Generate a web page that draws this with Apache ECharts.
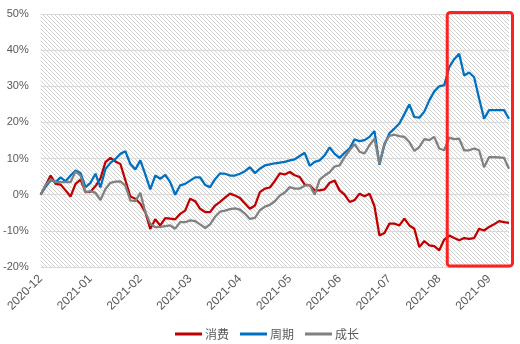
<!DOCTYPE html>
<html>
<head>
<meta charset="utf-8">
<script src="https://cdn.jsdelivr.net/npm/echarts@6/dist/echarts.min.js"></script>
<style>
html,body{margin:0;padding:0;background:#fff;}
#c{width:520px;height:344px;}
</style>
</head>
<body>
<div id="c"></div>
<script>
const tickLabels = ['2020-12','2021-01','2021-02','2021-03','2021-04','2021-05','2021-06','2021-07','2021-08','2021-09'];
const seriesNames = ['消费','周期','成长'];
const consumption = [0,2.6,5.3,3.0,2.8,1.2,-0.5,3.0,4.2,0.7,0.8,2.4,4.5,9.0,10.2,9.2,8.5,4.0,-0.5,-1.1,
  -2.5,-4.8,-9.5,-6.8,-8.5,-6.5,-6.6,-6.8,-5.3,-4.4,-1.1,-1.8,-3.9,-4.8,-4.8,-3.0,-2.0,-0.8,0.3,-0.2,
  -0.9,-2.4,-3.9,-3.0,0.7,1.7,2.0,3.8,5.9,5.6,6.3,5.4,4.9,2.8,2.6,1.2,1.2,1.5,3.3,3.9,
  1.2,0.0,-2.0,-1.5,0.3,-0.4,0.3,-3.2,-11.3,-10.6,-8.0,-8.0,-8.5,-6.6,-8.5,-9.4,-14.5,-12.8,-14.0,-14.2,
  -15.4,-12.4,-11.3,-12.0,-12.6,-12.0,-12.2,-12.0,-9.4,-9.9,-8.9,-8.2,-7.3,-7.6,-7.8];
const cyclical = [0,2.2,4.0,3.5,4.8,3.7,5.3,6.7,6.0,2.1,3.3,5.8,2.0,7.1,8.8,9.9,11.3,12.0,8.5,7.0,
  9.5,5.6,1.5,5.3,4.4,5.5,3.5,0.0,2.6,3.0,3.9,4.8,4.8,2.7,2.1,4.3,5.9,5.8,5.3,5.3,
  5.8,6.5,7.6,6.0,7.2,8.1,8.4,8.7,8.9,9.1,9.5,9.8,10.7,11.6,8.0,9.1,9.5,10.9,13.1,11.3,
  10.2,11.6,12.8,15.3,14.8,15.1,16.0,17.6,8.3,13.8,17.0,18.3,19.7,22.3,25.0,21.5,21.3,23.0,26.1,28.6,
  30.0,30.3,35.3,37.5,39.0,33.0,33.8,32.5,26.6,21.0,23.4,23.4,23.4,23.4,21.0];
const growth = [0,2.7,4.2,3.5,3.5,3.5,3.5,6.4,5.3,0.7,1.0,0.5,-1.5,1.6,3.3,3.6,3.7,2.5,-1.6,-1.8,
  0.5,-4.8,-8.0,-9.0,-8.9,-8.7,-8.5,-9.4,-7.6,-7.6,-7.1,-7.3,-8.2,-9.2,-8.2,-6.1,-4.7,-4.4,-4.0,-3.8,
  -4.1,-5.2,-6.7,-6.4,-4.3,-3.3,-2.8,-1.8,-0.2,0.6,2.1,1.7,1.7,2.5,2.7,0.0,4.2,5.3,6.2,7.8,
  8.1,10.4,12.3,14.0,11.9,11.4,13.7,15.5,8.6,14.2,16.3,16.6,16.2,16.0,14.6,12.1,13.2,15.4,15.1,16.0,
  12.8,12.3,15.8,15.4,15.5,12.3,12.3,12.8,12.3,7.6,10.4,10.4,10.3,10.2,7.2];
const labelStep = 10;
const highlightStartIndex = 81;

const categories = consumption.map((_, i) => (i % labelStep === 0 && tickLabels[i / labelStep]) ? tickLabels[i / labelStep] : '');

// hatch pattern for plot background
const pc = document.createElement('canvas');
pc.width = 4; pc.height = 4;
const g = pc.getContext('2d');
g.fillStyle = '#ffffff'; g.fillRect(0,0,4,4);
g.strokeStyle = '#d2d2d2'; g.lineWidth = 1;
[-4,0,4].forEach(k => { g.beginPath(); g.moveTo(k,0); g.lineTo(k+4,4); g.stroke(); });

const chart = echarts.init(document.getElementById('c'), null, {renderer:'canvas'});
const font = "'Liberation Sans', 'Noto Sans CJK SC', sans-serif";
chart.setOption({
  animation: false,
  textStyle: {fontFamily: font},
  grid: {left: 40, right: 11, top: 14, bottom: 77, show: true, borderWidth: 0,
         backgroundColor: {image: pc, repeat: 'repeat'}},
  legend: {
    bottom: 4, left: 175, padding: 0, itemWidth: 27, itemHeight: 3, itemGap: 11, icon: 'rect',
    textStyle: {color: '#595959', fontSize: 12, fontFamily: "'Noto Sans CJK SC', sans-serif", padding: [0,0,0,-2]},
    data: seriesNames
  },
  xAxis: {
    type: 'category', data: categories, boundaryGap: false,
    axisLine: {show: true, lineStyle: {color: '#d9d9d9'}},
    axisTick: {show: false},
    axisLabel: {interval: 0, rotate: 45, color: '#595959', fontSize: 12, margin: 10,
      formatter: v => v}
  },
  yAxis: {
    type: 'value', min: -20, max: 50, interval: 10,
    axisLine: {show: false}, axisTick: {show: false},
    splitLine: {lineStyle: {color: '#d9d9d9', width: 1}},
    axisLabel: {formatter: '{value}%', color: '#595959', fontSize: 11, margin: 12}
  },
  series: [
    {name: seriesNames[0], type: 'line', data: consumption, showSymbol: false, symbol: 'none',
     lineStyle: {color: '#C00000', width: 2.25}, itemStyle: {color: '#C00000'}},
    {name: seriesNames[1], type: 'line', data: cyclical, showSymbol: false, symbol: 'none',
     lineStyle: {color: '#0070C0', width: 2.25}, itemStyle: {color: '#0070C0'}},
    {name: seriesNames[2], type: 'line', data: growth, showSymbol: false, symbol: 'none',
     lineStyle: {color: '#808080', width: 2.25}, itemStyle: {color: '#808080'}}
  ]
});

// highlight box around the latest period
const x0 = chart.convertToPixel({xAxisIndex: 0}, highlightStartIndex) + 3;
const yTop = chart.convertToPixel({yAxisIndex: 0}, 50) - 1.5;
const yBot = chart.convertToPixel({yAxisIndex: 0}, -20) - 1;
const x1 = chart.getWidth() - 7.5;
chart.setOption({
  graphic: [{type: 'rect', z: 100,
    shape: {x: x0, y: yTop, width: x1 - x0, height: yBot - yTop, r: 3},
    style: {fill: 'none', stroke: '#FF2020', lineWidth: 3}}]
});
</script>
</body>
</html>
